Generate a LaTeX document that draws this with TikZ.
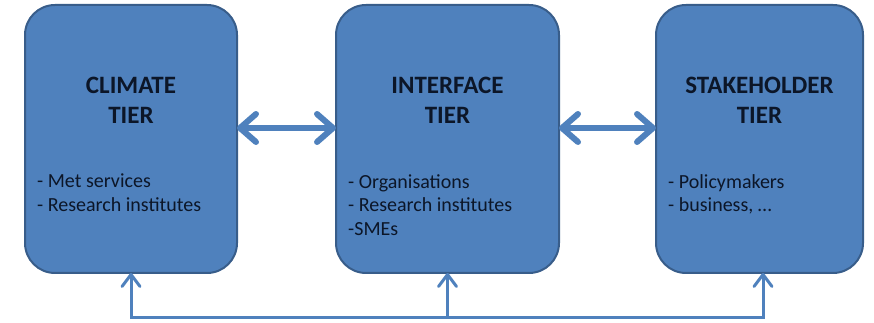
\documentclass[tikz,border=0pt]{standalone}
\usepackage{fontspec}
\setmainfont{Carlito}
\usetikzlibrary{positioning,arrows.meta}
\definecolor{tierfill}{HTML}{4F81BD}
\definecolor{tierline}{HTML}{385D8A}
\definecolor{tiertext}{HTML}{0C1628}
\begin{document}
\begin{tikzpicture}[x=1pt, y=1pt,
  tier/.style={draw=tierline, fill=tierfill, line width=2pt, rounded corners=30pt, minimum height=268pt, outer sep=0pt},
  title/.style={font=\bfseries\fontsize{25}{29.5}\selectfont, text=tiertext, align=center, inner sep=0pt},
  items/.style={font=\fontsize{20}{23.5}\selectfont, text=tiertext, align=left, inner sep=0pt},
  link/.style={draw=tierfill, line width=6pt, {Straight Barb[length=16pt,width=28pt,round]}-{Straight Barb[length=16pt,width=28pt,round]}},
  feed/.style={draw=tierfill, line width=3pt, -{Straight Barb[length=12pt,width=18pt,round]}}]
\useasboundingbox (0,0) rectangle (874,323);
% Tiers
\node[tier, minimum width=212pt] (climate) at (131,184) {};
\node[tier, minimum width=223pt] (interface) at (447.5,184) {};
\node[tier, minimum width=207pt] (stakeholder) at (759.5,184) {};

% Titles
\node[title, below=72pt of climate.north] (climatetitle) {CLIMATE\\TIER};
\node[title, below=72pt of interface.north] (interfacetitle) {INTERFACE\\TIER};
\node[title, below=72pt of stakeholder.north] (stakeholdertitle) {STAKEHOLDER\\TIER};

% Members
\node[items, below right=169pt and 12pt of climate.north west] (climateitems) {- Met services\\- Research institutes};
\node[items, below right=169pt and 12pt of interface.north west] (interfaceitems) {- Organisations\\- Research institutes\\-SMEs};
\node[items, below right=169pt and 12pt of stakeholder.north west] (stakeholderitems) {- Policymakers\\- business, \dots};

% Links between tiers
\draw[link] ([yshift=11pt]climate.east) -- ([yshift=11pt]interface.west);
\draw[link] ([yshift=11pt]interface.east) -- ([yshift=11pt]stakeholder.west);

% Feedback line
\coordinate (bus) at (447.5,5);
\draw[feed] (interface.south |- bus) -| (climate.south);
\draw[feed] (interface.south |- bus) -| ([xshift=3.5pt]stakeholder.south);
\draw[feed] (interface.south |- bus) -- (interface.south);
\end{tikzpicture}
\end{document}
